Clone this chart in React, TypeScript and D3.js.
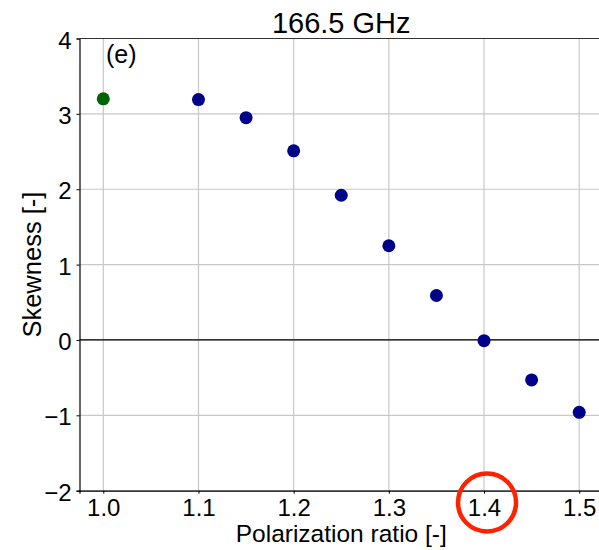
import React, {useEffect, useRef} from 'react';
import * as d3 from 'd3';

// polarization ratio and skewness
const refRatio = [1.0];
const refSkew = [3.2];
const ratios = [1.1, 1.15, 1.2, 1.25, 1.3, 1.35, 1.4, 1.45, 1.5];
const skewness = [3.19, 2.95, 2.51, 1.92, 1.25, 0.59, -0.01, -0.53, -0.96];
const xTicks = [1.0, 1.1, 1.2, 1.3, 1.4, 1.5];
const yTicks = [-2, -1, 0, 1, 2, 3, 4];
const highlightTick = 1.4;

const W = 599;
const H = 550;

const App = () => {
    const svgRef = useRef<SVGSVGElement | null>(null);

    useEffect(() => {
        const svg = d3.select(svgRef.current);
        svg.selectAll('*').remove();

        const margin = {top: 38.5, right: -4, bottom: 59.3, left: 79.5};
        const x = d3.scaleLinear().domain([0.975, 1.525]).range([margin.left, W - margin.right]);
        const y = d3.scaleLinear().domain([-2, 4]).range([H - margin.bottom, margin.top]);
        const font = 'Liberation Sans, Arial, Helvetica, sans-serif';

        // grid
        const grid = svg.append('g');
        grid.selectAll('.vg').data(xTicks).enter().append('line')
            .attr('x1', d => x(d)).attr('x2', d => x(d))
            .attr('y1', y(-2)).attr('y2', y(4))
            .attr('stroke', '#c8c8c8').attr('stroke-width', 1.2);
        grid.selectAll('.hg').data(yTicks).enter().append('line')
            .attr('x1', x.range()[0]).attr('x2', x.range()[1])
            .attr('y1', d => y(d)).attr('y2', d => y(d))
            .attr('stroke', '#c8c8c8').attr('stroke-width', 1.2);

        // zero line
        svg.append('line')
            .attr('x1', x.range()[0]).attr('x2', x.range()[1])
            .attr('y1', y(0)).attr('y2', y(0))
            .attr('stroke', '#000').attr('stroke-width', 1.2);

        // axes
        const xAxis = d3.axisBottom(x).tickValues(xTicks).tickFormat(d3.format('.1f')).tickSize(3);
        const gx = svg.append('g').attr('transform', `translate(0, ${y(-2)})`).call(xAxis);
        const yAxis = d3.axisLeft(y).tickValues(yTicks).tickFormat(d => d3.format('d')(d as number).replace('-', '\u2212')).tickSize(3).tickPadding(5);
        const gy = svg.append('g').attr('transform', `translate(${x.range()[0]}, 0)`).call(yAxis);
        [gx, gy].forEach(g => {
            g.select('.domain').attr('stroke', '#000').attr('stroke-width', 1.2);
            g.selectAll('.tick line').attr('stroke', '#000');
            g.selectAll('.tick text').attr('font-family', font).attr('font-size', 24).attr('fill', '#000');
        });
        gx.selectAll('.tick text').attr('y', 25.5).attr('dy', 0);
        gy.selectAll('.tick text').attr('dy', '0.4em');

        // top spine
        svg.append('line')
            .attr('x1', x.range()[0]).attr('x2', x.range()[1])
            .attr('y1', y(4)).attr('y2', y(4))
            .attr('stroke', '#333').attr('stroke-width', 1.2);

        // points
        svg.selectAll('.ref').data(refRatio).enter().append('circle')
            .attr('cx', d => x(d)).attr('cy', (d, i) => y(refSkew[i]))
            .attr('r', 6.5).attr('fill', '#006400');
        svg.selectAll('.pt').data(ratios).enter().append('circle')
            .attr('cx', d => x(d)).attr('cy', (d, i) => y(skewness[i]))
            .attr('r', 6.5).attr('fill', '#00008b');

        // texts
        svg.append('text').attr('x', (x.range()[0] + x.range()[1]) / 2).attr('y', 33)
            .attr('text-anchor', 'middle').attr('font-family', font).attr('font-size', 29)
            .text('166.5 GHz');
        svg.append('text').attr('x', 106).attr('y', 63)
            .attr('font-family', font).attr('font-size', 25).text('(e)');
        svg.append('text').attr('x', (x.range()[0] + x.range()[1]) / 2).attr('y', 542)
            .attr('text-anchor', 'middle').attr('font-family', font).attr('font-size', 24.5)
            .text('Polarization ratio [-]');
        svg.append('text')
            .attr('transform', `translate(41, ${(y(-2) + y(4)) / 2}) rotate(-90)`)
            .attr('text-anchor', 'middle').attr('font-family', font).attr('font-size', 25.5)
            .text('Skewness [-]');

        // red circle around highlighted tick label
        svg.append('circle')
            .attr('cx', x(highlightTick) + 3).attr('cy', 502.5).attr('r', 29)
            .attr('fill', 'none').attr('stroke', '#ff2200').attr('stroke-width', 4.5);
    }, []);

    return (
        <svg ref={svgRef} width={W} height={H}
             style={{position: 'absolute', left: 0, top: 0, background: '#fff'}}></svg>
    );
};

export default App;
